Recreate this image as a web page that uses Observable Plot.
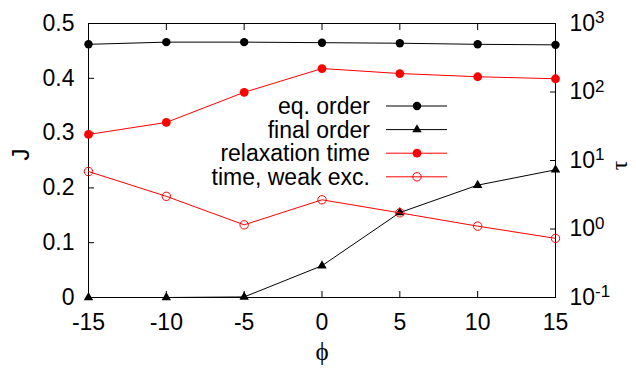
<!DOCTYPE html>
<html>
<head>
<meta charset="utf-8">
<script src="https://cdn.jsdelivr.net/npm/d3@7"></script>
<script src="https://cdn.jsdelivr.net/npm/@observablehq/plot@0.6"></script>
<style>
  html, body { margin: 0; padding: 0; background: white; }
</style>
</head>
<body>
<div id="chart"></div>
<script>
// ---- data ----
const phi = [-15, -10, -5, 0, 5, 10, 15];
const eqOrder = [0.462, 0.466, 0.466, 0.465, 0.464, 0.462, 0.461];
const finalOrder = [0, 0, 0.001, 0.058, 0.155, 0.205, 0.233];
const relaxTime = [24, 36, 99, 220, 186, 167, 156];      // tau, right log axis
const weakTime = [6.9, 3.0, 1.15, 2.67, 1.72, 1.10, 0.73]; // tau, right log axis
const xTicks = [-15, -10, -5, 0, 5, 10, 15];
const jTicks = [0, 0.1, 0.2, 0.3, 0.4, 0.5];
const tauTicks = [0.1, 1, 10, 100, 1000];
const tauExp = ["-1", "0", "1", "2", "3"];
const legendLabels = ["eq. order", "final order", "relaxation time", "time, weak exc."];

// right axis (log tau, 1e-1..1e3) mapped onto left J domain (0..0.5)
const tauToJ = t => (Math.log10(t) + 1) / 4 * 0.5;

const rows = (ys, f = d => d) => phi.map((p, i) => ({phi: p, v: f(ys[i])}));
const eqData = rows(eqOrder);
const finData = rows(finalOrder);
const relData = rows(relaxTime, tauToJ);
const weakData = rows(weakTime, tauToJ);
const tauTickPos = tauTicks.map(tauToJ);

const RED = "#ff0000";
const FONT = "Liberation Sans, Arial, sans-serif";
const FS = 23;

const chart = Plot.plot({
  width: 636,
  height: 369,
  marginLeft: 88,
  marginRight: 81,
  marginTop: 23,
  marginBottom: 72,
  x: {domain: [-15, 15]},
  y: {domain: [0, 0.5]},
  style: {fontFamily: FONT, fontSize: FS + "px", color: "black", background: "white"},
  marks: [
    // inward ticks
    Plot.axisX({ticks: xTicks, anchor: "bottom", tickSize: 6, dy: -6, tickFormat: () => "", label: null}),
    Plot.axisX({ticks: xTicks, anchor: "top", tickSize: 6, dy: 6, tickFormat: () => "", label: null}),
    Plot.axisY({ticks: jTicks, anchor: "left", tickSize: 6, dx: 6, tickFormat: () => "", label: null}),
    Plot.axisY({ticks: tauTickPos, anchor: "right", tickSize: 6, dx: -6, tickFormat: () => "", label: null}),
    // labels
    Plot.axisX({ticks: xTicks, anchor: "bottom", tickSize: 0, tickPadding: 16, tickFormat: d => String(d), label: null, fontSize: FS}),
    Plot.axisY({ticks: jTicks, anchor: "left", tickSize: 0, tickPadding: 14, tickFormat: d => d === 0 ? "0" : d3.format(".1f")(d), label: null, fontSize: FS}),
    Plot.axisY({ticks: tauTickPos, anchor: "right", tickSize: 0, tickPadding: 14, tickFormat: (d, i) => "10^" + tauExp[i], label: null, fontSize: FS}),
    Plot.frame({stroke: "black"}),
    // axis titles
    Plot.text(["J"], {frameAnchor: "left", dx: -67, rotate: -90, fontSize: 24}),
    Plot.text(["τ"], {frameAnchor: "right", dx: 64, rotate: -90, fontSize: 24, fontFamily: "Liberation Serif, serif"}),
    Plot.text(["ϕ"], {frameAnchor: "bottom", dy: 62, fontSize: 25, fontFamily: "Liberation Serif, DejaVu Serif, serif"}),
    // series
    Plot.line(eqData, {x: "phi", y: "v", stroke: "black", strokeWidth: 1}),
    Plot.dot(eqData, {x: "phi", y: "v", r: 4.2, fill: "black", stroke: "none"}),
    Plot.line(finData, {x: "phi", y: "v", stroke: "black", strokeWidth: 1}),
    Plot.dot(finData, {x: "phi", y: "v", r: 3.5, symbol: "triangle", fill: "black", stroke: "none"}),
    Plot.line(relData, {x: "phi", y: "v", stroke: RED, strokeWidth: 1}),
    Plot.dot(relData, {x: "phi", y: "v", r: 4.4, fill: RED, stroke: "none"}),
    Plot.line(weakData, {x: "phi", y: "v", stroke: RED, strokeWidth: 1}),
    Plot.dot(weakData, {x: "phi", y: "v", r: 4.2, fill: "none", stroke: RED, strokeWidth: 1})
  ]
});

// superscripts for right axis labels
chart.querySelectorAll("text").forEach(t => {
  const m = /^10\^(.+)$/.exec(t.textContent);
  if (m) {
    t.textContent = "10";
    const ts = document.createElementNS("http://www.w3.org/2000/svg", "tspan");
    ts.setAttribute("dy", "-0.45em");
    ts.setAttribute("font-size", "17");
    ts.textContent = m[1];
    t.appendChild(ts);
  }
});

// legend (inside the plot)
const svg = d3.select(chart);
const styles = [
  {stroke: "black", fill: "black", sym: d3.symbolCircle, size: Math.PI * 4.2 * 4.2},
  {stroke: "black", fill: "black", sym: d3.symbolTriangle, size: Math.PI * 3.5 * 3.5},
  {stroke: RED, fill: RED, sym: d3.symbolCircle, size: Math.PI * 4.4 * 4.4},
  {stroke: RED, fill: "none", sym: d3.symbolCircle, size: Math.PI * 4.2 * 4.2}
];
const lg = svg.append("g").attr("font-family", FONT).attr("font-size", FS);
legendLabels.forEach((lab, i) => {
  const y = 106 + i * 23.6;
  const s = styles[i];
  lg.append("text").attr("x", 370).attr("y", y).attr("dy", "0.35em").attr("text-anchor", "end").attr("fill", "black").text(lab);
  lg.append("line").attr("x1", 386).attr("x2", 447).attr("y1", y).attr("y2", y).attr("stroke", s.stroke).attr("stroke-width", 1);
  lg.append("path").attr("transform", `translate(417,${y})`).attr("d", d3.symbol(s.sym, s.size)())
    .attr("fill", s.fill).attr("stroke", s.fill === "none" ? s.stroke : "none").attr("stroke-width", 1);
});

document.getElementById("chart").appendChild(chart);
</script>
</body>
</html>
